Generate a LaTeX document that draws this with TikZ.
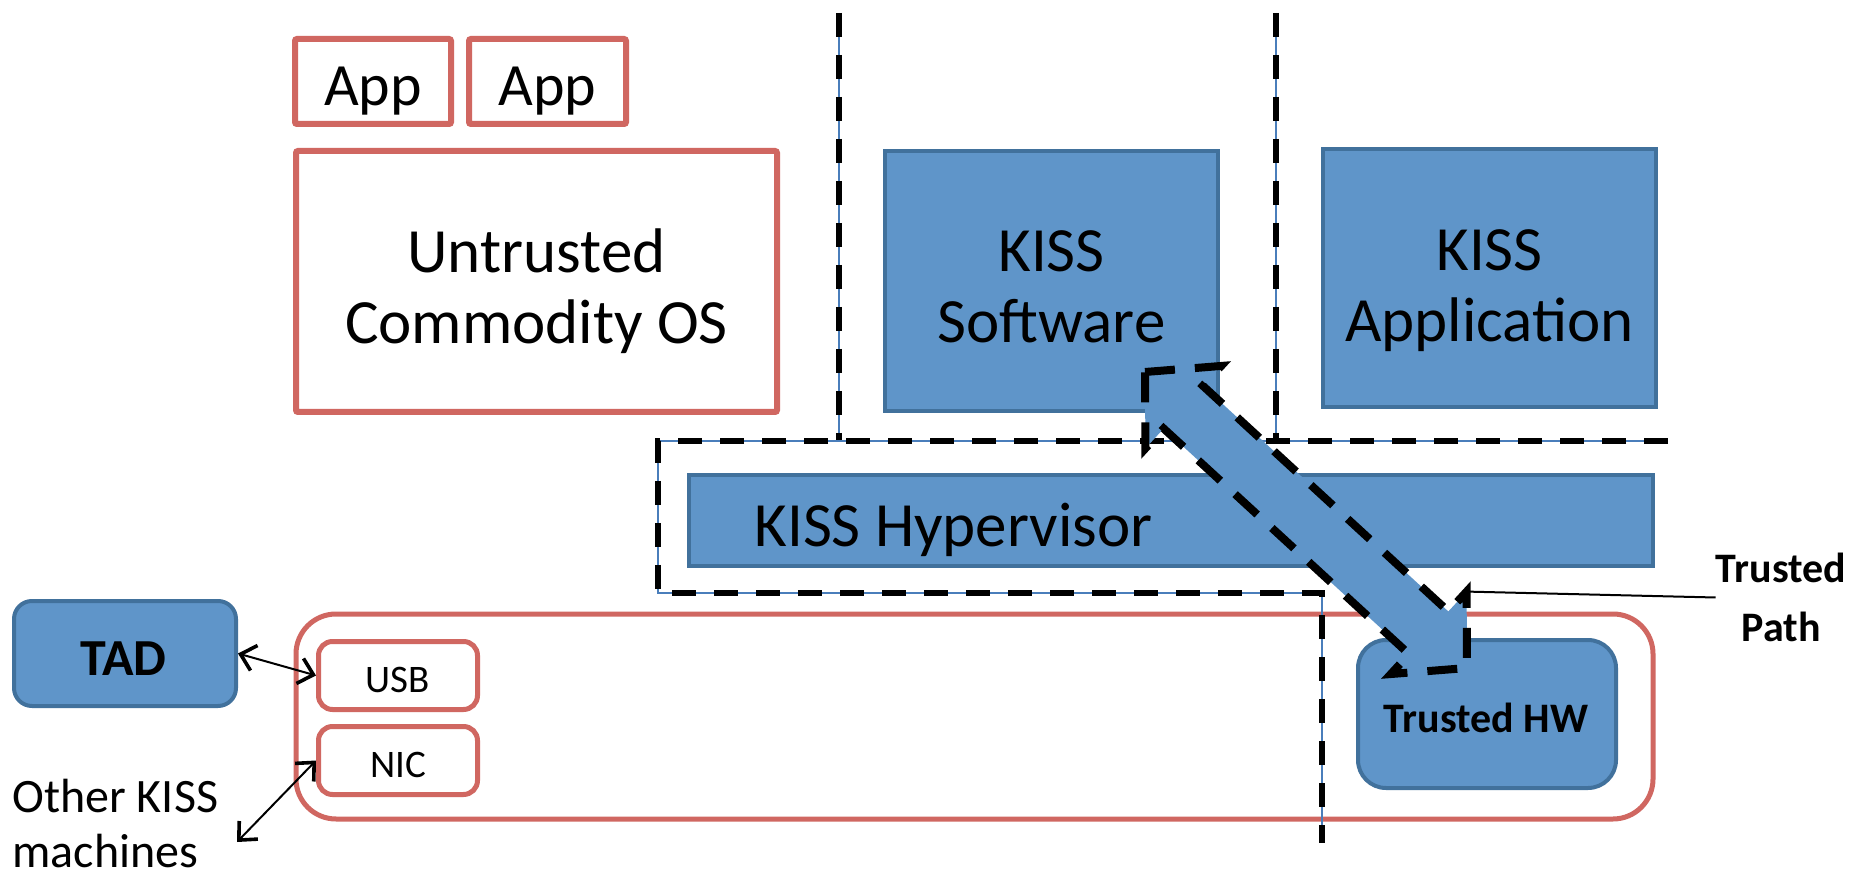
\documentclass[tikz,border=0pt]{standalone}
\usepackage{fontspec}
\setmainfont{Carlito}
\usetikzlibrary{arrows.meta,calc}
\definecolor{boxblue}{RGB}{95,149,201}
\definecolor{edgeblue}{RGB}{65,113,156}
\definecolor{guideblue}{RGB}{74,126,187}
\definecolor{boxred}{RGB}{208,103,97}
\tikzset{
  redbox/.style={draw=boxred, line width=3pt, fill=white, rounded corners=1pt, inner sep=0pt},
  portbox/.style={draw=boxred, line width=2.5pt, fill=white, rounded corners=7pt, inner sep=0pt,
                  minimum width=79.5pt, minimum height=34pt},
  bluebox/.style={draw=edgeblue, line width=2pt, fill=boxblue, inner sep=0pt},
  bigtxt/.style={font=\fontsize{31.5}{35.5}\selectfont, align=center, inner sep=0pt},
  onetxt/.style={anchor=base, inner sep=0pt},
  divider/.style={preaction={draw=guideblue, line width=0.75pt, solid},
                  draw=black, line width=3pt, dash pattern=on 12pt off 9pt},
  link/.style={draw=black, line width=1pt, <->,
               >={Straight Barb[length=7pt,width=13pt,line width=1.8pt]}},
  trustpath/.style={draw=black, fill=boxblue, line width=4pt, dash pattern=on 15pt off 10pt,
                    line join=miter},
}
\begin{document}
\begin{tikzpicture}[x=0.5pt, y=-0.5pt]
\useasboundingbox (0,0) rectangle (1868,876);
\fill[white] (0,0) rectangle (1868,876);

% untrusted side: applications on a commodity OS
\node[redbox, minimum width=78pt, minimum height=42.5pt] (app1) at (373,81.5) {};
\node[redbox, minimum width=78.5pt, minimum height=42.5pt] (app2) at (547.5,81.5) {};
\node[redbox, minimum width=240.5pt, minimum height=130.5pt] (os) at (536.5,281.5) {};

% KISS components
\node[bluebox, minimum width=166.5pt, minimum height=130pt] (sw) at (1051.5,281) {};
\node[bluebox, minimum width=166.5pt, minimum height=129pt] (apl) at (1489.5,278) {};
\node[bluebox, minimum width=482pt, minimum height=45.5pt] (hyp) at (1171,520.5) {};

% hardware platform
\node[draw=boxred, line width=2.5pt, rounded corners=20pt, inner sep=0pt,
      minimum width=678.5pt, minimum height=102.5pt] (plat) at (974.5,716.5) {};
\node[portbox] (usb) at (398,675.5) {};
\node[portbox] (nic) at (398,760.5) {};
\node[bluebox, rounded corners=9pt, minimum width=111pt, minimum height=52.5pt] (tad) at (125,653.5) {};
\node[bluebox, rounded corners=14pt, minimum width=129pt, minimum height=74pt] (thw) at (1487,714) {};

% labels
\node[onetxt, font=\fontsize{30}{36}\selectfont] (app1t) at (373,106) {App};
\node[onetxt, font=\fontsize{30}{36}\selectfont] (app2t) at (547.5,106) {App};
\node[bigtxt] (ost) at (536.5,291) {Untrusted\\Commodity OS};
\node[bigtxt] (swt) at (1051.5,287) {KISS\\Software};
\node[bigtxt] (aplt) at (1489.5,290.5) {KISS\\Application};
\node[anchor=base west, inner sep=0pt, font=\fontsize{31.5}{36}\selectfont] (hypt) at (754,547) {KISS Hypervisor};
\node[onetxt, font=\bfseries\fontsize{26}{30}\selectfont] (tadt) at (123.5,675) {TAD};
\node[onetxt, font=\fontsize{19.5}{23}\selectfont] (usbt) at (398,692) {USB};
\node[onetxt, font=\fontsize{19.5}{23}\selectfont] (nict) at (398,777) {NIC};
\node[onetxt, font=\bfseries\fontsize{21}{25}\selectfont] (thwt) at (1486,732) {Trusted HW};
\node[font=\bfseries\fontsize{21}{29.5}\selectfont, align=center, inner sep=0pt] (tpath) at (1781,597.5) {Trusted\\Path};
\node[font=\fontsize{24}{27.5}\selectfont, align=left, anchor=west, inner sep=0pt] (other) at (12,824) {Other KISS\\machines};

% isolation boundaries
\path[divider] (839,13) -- (839,441);
\path[divider] (1276,13) -- (1276,441);
\path[divider] (1668,441) -- (658,441) -- (658,593) -- (1322,593) -- (1322,843);

% device links
\coordinate (far) at (237,842);
\draw[link] (tad.east) -- (usb.west);
\draw[link] (nic.west) -- (far);

% trusted path between KISS software and trusted hardware
\coordinate (ta) at (1145,372);
\coordinate (tb) at (1467,668);
\coordinate (h1) at ($(ta)!26pt!(tb)$);
\coordinate (h2) at ($(tb)!26pt!(ta)$);
\coordinate (barb) at ($(h2)!28pt!-90:(ta)$);
\draw[trustpath] (ta) -- ($(h1)!28pt!90:(tb)$) -- ($(h1)!14.5pt!90:(tb)$)
  -- ($(h2)!14.5pt!-90:(ta)$) -- (barb) -- (tb)
  -- ($(h2)!28pt!90:(ta)$) -- ($(h2)!14.5pt!90:(ta)$)
  -- ($(h1)!14.5pt!-90:(tb)$) -- ($(h1)!28pt!-90:(tb)$) -- cycle;
\draw[line width=1pt] (tpath.west) -- (barb);
\end{tikzpicture}
\end{document}
